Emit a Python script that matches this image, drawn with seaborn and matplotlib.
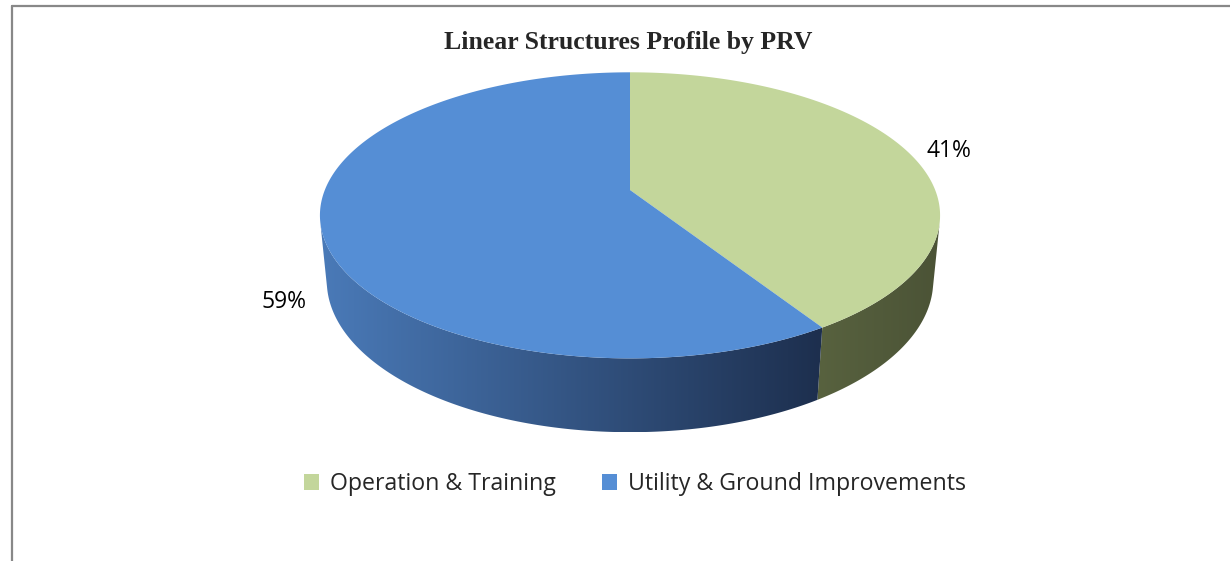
import matplotlib
matplotlib.use("Agg")
import matplotlib.pyplot as plt
import matplotlib.patches as mpatches
from matplotlib.colors import LinearSegmentedColormap
import seaborn as sns
import numpy as np

sns.set_theme(style="white")
plt.rcParams["font.family"] = ["Open Sans", "DejaVu Sans"]

# ── data ─────────────────────────────────────────────
labels = ["Operation & Training", "Utility & Ground Improvements"]
shares = [0.41, 0.59]
pct_text = ["41%", "59%"]
top_colors = ["#C3D69B", "#558ED5"]
side_colors = [("#58623F", "#4B5336"), ("#4A7AB8", "#1D2F4E")]
title = "Linear Structures Profile by PRV"

# ── 3D view (pixels) ─────────────────────────────────
W, H = 1230, 561
hub_x, hub_y = 630, 190
phi = np.deg2rad(27)     # elevation
dist = 5.03              # camera distance (pie radius = 1)
focal = 1535
thick = 0.243            # pie thickness

fig = plt.figure(figsize=(W / 100, H / 100), dpi=100)
ax = fig.add_axes([0, 0, 1, 1])
ax.set_xlim(0, W)
ax.set_ylim(H, 0)
ax.axis("off")


def proj(theta, h=0.0):
    # theta measured clockwise from 12 o'clock (back of the pie)
    X, P = np.sin(theta), np.cos(theta)
    d = dist + P * np.cos(phi) - h * np.sin(phi)
    sx = focal * X / d
    sy = focal * (P * np.sin(phi) + h * np.cos(phi)) / d
    return hub_x + sx, hub_y - sy


bounds = np.concatenate([[0], np.cumsum(shares)]) * 2 * np.pi

# visible part of the cylinder wall
t_vis = np.arccos(-1 / (dist * np.cos(phi)))
vis_lo, vis_hi = t_vis, 2 * np.pi - t_vis

for i in range(len(shares)):
    t0 = max(bounds[i], vis_lo)
    t1 = min(bounds[i + 1], vis_hi)
    if t1 <= t0:
        continue
    th = np.linspace(t0, t1, 200)
    xs, ys = proj(th)
    xb, yb = proj(th[::-1], -thick)
    poly = np.column_stack([np.concatenate([xs, xb]), np.concatenate([ys, yb])])
    patch = mpatches.Polygon(poly, closed=True, facecolor="none", edgecolor="none")
    ax.add_patch(patch)
    cmap = LinearSegmentedColormap.from_list("side%d" % i, side_colors[i])
    grad = np.linspace(0, 1, 256).reshape(1, -1)
    im = ax.imshow(grad, cmap=cmap, aspect="auto",
                   extent=[poly[:, 0].min(), poly[:, 0].max(),
                           poly[:, 1].max(), poly[:, 1].min()],
                   zorder=2)
    im.set_clip_path(patch)

# top face
for i in range(len(shares)):
    th = np.linspace(bounds[i], bounds[i + 1], 300)
    xs, ys = proj(th)
    poly = np.column_stack([np.concatenate([[hub_x], xs]),
                            np.concatenate([[hub_y], ys])])
    ax.add_patch(mpatches.Polygon(poly, closed=True, facecolor=top_colors[i],
                                  edgecolor="none", zorder=3))

# percentage labels
ax.text(949, 151, pct_text[0], fontsize=16.5, ha="center", va="center", color="black")
ax.text(284, 302, pct_text[1], fontsize=16.5, ha="center", va="center", color="black")

ax.text(628, 42, title, fontsize=18.5, fontweight="bold", ha="center", va="center",
        family=["Liberation Serif", "DejaVu Serif"])

# legend
handles = [mpatches.Patch(facecolor=c, edgecolor="none") for c in top_colors]
fig.legend(handles, labels, loc="center", bbox_to_anchor=(635 / W, 1 - 484 / H),
           ncol=2, frameon=False, fontsize=16.7, handlelength=0.65, handleheight=0.65,
           handletextpad=0.45, columnspacing=2.0)

# outer frame (top and left edges)
ax.plot([11.5, 11.5], [6, H], color="#888888", lw=1.6, zorder=5)
ax.plot([11.5, W], [6, 6], color="#888888", lw=1.6, zorder=5)

fig.savefig("out.png", dpi=100)
